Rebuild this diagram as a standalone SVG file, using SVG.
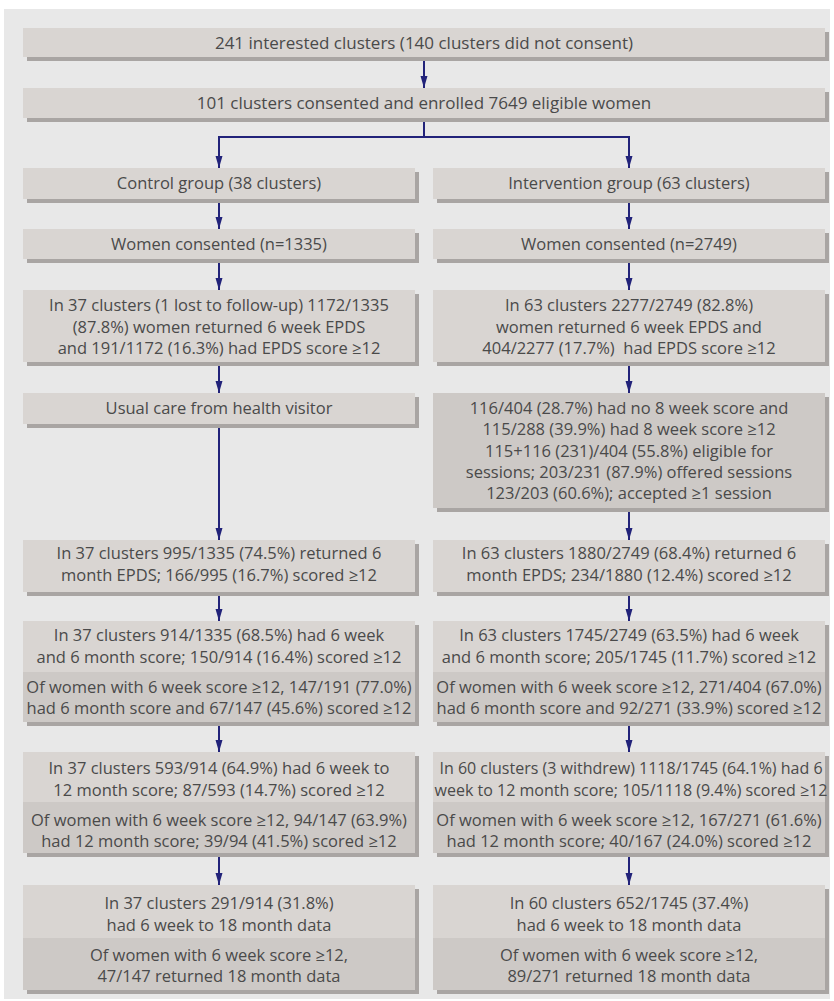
<svg xmlns="http://www.w3.org/2000/svg" width="834" height="1001" viewBox="0 0 834 1001">
<style>
.bg{fill:#e8e8e8}
.sh{fill:#a9a5a3}
.b1{fill:#d9d5d2}
.b2{fill:#cdc9c6}
text{font-family:"Open Sans","Noto Sans","Liberation Sans",sans-serif;font-size:16.5px;fill:#4a4a4a;text-anchor:middle}
text.w{font-size:17px}
text.n{font-size:16px}
.c{fill:none;stroke:#22237a;stroke-width:2}
</style>
<defs>
<marker id="ah" markerUnits="userSpaceOnUse" markerWidth="12" markerHeight="8" refX="12" refY="4" orient="auto">
<path d="M0,0.5 L12,4 L0,7.5 z" fill="#22237a"/>
</marker>
</defs>
<rect width="834" height="1001" fill="#ffffff"/>
<rect class="bg" x="4" y="9" width="826" height="990"/>

<g id="n1"><rect class="sh" x="27" y="32" width="802" height="29"/><rect class="b1" x="23" y="28" width="802" height="29"/><text class="w" x="424" y="48.5">241 interested clusters (140 clusters did not consent)</text></g>
<g id="n2"><rect class="sh" x="27" y="92" width="802" height="30"/><rect class="b1" x="23" y="88" width="802" height="30"/><text class="w" x="424" y="108.5">101 clusters consented and enrolled 7649 eligible women</text></g>

<g id="c3"><rect class="sh" x="27" y="172" width="392" height="31"/><rect class="b1" x="23" y="168" width="392" height="31"/><text x="219" y="189">Control group (38 clusters)</text></g>
<g id="i3"><rect class="sh" x="437" y="172" width="392" height="31"/><rect class="b1" x="433" y="168" width="392" height="31"/><text x="629" y="189">Intervention group (63 clusters)</text></g>

<g id="c4"><rect class="sh" x="27" y="233" width="392" height="30"/><rect class="b1" x="23" y="229" width="392" height="30"/><text x="219" y="249.5">Women consented (n=1335)</text></g>
<g id="i4"><rect class="sh" x="437" y="233" width="392" height="30"/><rect class="b1" x="433" y="229" width="392" height="30"/><text x="629" y="249.5">Women consented (n=2749)</text></g>

<g id="c5"><rect class="sh" x="27" y="294" width="392" height="72"/><rect class="b1" x="23" y="290" width="392" height="72"/>
<text x="219" y="311">In 37 clusters (1 lost to follow-up) 1172/1335</text>
<text x="219" y="332.5">(87.8%) women returned 6 week EPDS</text>
<text x="219" y="354">and 191/1172 (16.3%) had EPDS score ≥12</text></g>
<g id="i5"><rect class="sh" x="437" y="294" width="392" height="72"/><rect class="b1" x="433" y="290" width="392" height="72"/>
<text x="629" y="311">In 63 clusters 2277/2749 (82.8%)</text>
<text x="629" y="332.5">women returned 6 week EPDS and</text>
<text x="629" y="354" xml:space="preserve">404/2277 (17.7%)  had EPDS score ≥12</text></g>

<g id="c6"><rect class="sh" x="27" y="397" width="392" height="31"/><rect class="b1" x="23" y="393" width="392" height="31"/><text x="219" y="414">Usual care from health visitor</text></g>
<g id="i6"><rect class="sh" x="437" y="397" width="392" height="115"/><rect class="b2" x="433" y="393" width="392" height="115"/>
<text x="629" y="414">116/404 (28.7%) had no 8 week score and</text>
<text x="629" y="435">115/288 (39.9%) had 8 week score ≥12</text>
<text x="629" y="456.5">115+116 (231)/404 (55.8%) eligible for</text>
<text x="629" y="478">sessions; 203/231 (87.9%) offered sessions</text>
<text x="629" y="499">123/203 (60.6%); accepted ≥1 session</text></g>

<g id="c7"><rect class="sh" x="27" y="544" width="392" height="52"/><rect class="b1" x="23" y="540" width="392" height="52"/>
<text x="219" y="559">In 37 clusters 995/1335 (74.5%) returned 6</text>
<text x="219" y="580.5">month EPDS; 166/995 (16.7%) scored ≥12</text></g>
<g id="i7"><rect class="sh" x="437" y="544" width="392" height="52"/><rect class="b1" x="433" y="540" width="392" height="52"/>
<text x="629" y="559">In 63 clusters 1880/2749 (68.4%) returned 6</text>
<text x="629" y="580.5">month EPDS; 234/1880 (12.4%) scored ≥12</text></g>

<g id="c8"><rect class="sh" x="27" y="625" width="392" height="101"/><rect class="b1" x="23" y="621" width="392" height="51"/><rect class="b2" x="23" y="672" width="392" height="50"/>
<text x="219" y="641">In 37 clusters 914/1335 (68.5%) had 6 week</text>
<text x="219" y="662.5">and 6 month score; 150/914 (16.4%) scored ≥12</text>
<text x="219" y="692.5">Of women with 6 week score ≥12, 147/191 (77.0%)</text>
<text x="219" y="714">had 6 month score and 67/147 (45.6%) scored ≥12</text></g>
<g id="i8"><rect class="sh" x="437" y="625" width="392" height="101"/><rect class="b1" x="433" y="621" width="392" height="51"/><rect class="b2" x="433" y="672" width="392" height="50"/>
<text x="629" y="641">In 63 clusters 1745/2749 (63.5%) had 6 week</text>
<text x="629" y="662.5">and 6 month score; 205/1745 (11.7%) scored ≥12</text>
<text x="629" y="692.5">Of women with 6 week score ≥12, 271/404 (67.0%)</text>
<text x="629" y="714">had 6 month score and 92/271 (33.9%) scored ≥12</text></g>

<g id="c9"><rect class="sh" x="27" y="756" width="392" height="101"/><rect class="b1" x="23" y="752" width="392" height="50"/><rect class="b2" x="23" y="802" width="392" height="51"/>
<text x="219" y="774">In 37 clusters 593/914 (64.9%) had 6 week to</text>
<text x="219" y="795.5">12 month score; 87/593 (14.7%) scored ≥12</text>
<text x="219" y="825.5">Of women with 6 week score ≥12, 94/147 (63.9%)</text>
<text x="219" y="847">had 12 month score; 39/94 (41.5%) scored ≥12</text></g>
<g id="i9"><rect class="sh" x="437" y="756" width="392" height="101"/><rect class="b1" x="433" y="752" width="392" height="50"/><rect class="b2" x="433" y="802" width="392" height="51"/>
<text class="n" x="631" y="774">In 60 clusters (3 withdrew) 1118/1745 (64.1%) had 6</text>
<text class="n" x="631" y="795.5">week to 12 month score; 105/1118 (9.4%) scored ≥12</text>
<text x="629" y="825.5">Of women with 6 week score ≥12, 167/271 (61.6%)</text>
<text x="629" y="847">had 12 month score; 40/167 (24.0%) scored ≥12</text></g>

<g id="c10"><rect class="sh" x="27" y="889" width="392" height="105"/><rect class="b1" x="23" y="885" width="392" height="53"/><rect class="b2" x="23" y="938" width="392" height="52"/>
<text x="219" y="909">In 37 clusters 291/914 (31.8%)</text>
<text x="219" y="930.5">had 6 week to 18 month data</text>
<text x="219" y="961">Of women with 6 week score ≥12,</text>
<text x="219" y="982">47/147 returned 18 month data</text></g>
<g id="i10"><rect class="sh" x="437" y="889" width="392" height="105"/><rect class="b1" x="433" y="885" width="392" height="53"/><rect class="b2" x="433" y="938" width="392" height="52"/>
<text x="629" y="909">In 60 clusters 652/1745 (37.4%)</text>
<text x="629" y="930.5">had 6 week to 18 month data</text>
<text x="629" y="961">Of women with 6 week score ≥12,</text>
<text x="629" y="982">89/271 returned 18 month data</text></g>

<g id="connectors">
<path class="c" d="M424,61 V88" marker-end="url(#ah)"/>
<path class="c" d="M424,122 V137 H219 V168" marker-end="url(#ah)"/>
<path class="c" d="M424,137 H629 V168" marker-end="url(#ah)"/>
<path class="c" d="M219,203 V229" marker-end="url(#ah)"/>
<path class="c" d="M629,203 V229" marker-end="url(#ah)"/>
<path class="c" d="M219,263 V290" marker-end="url(#ah)"/>
<path class="c" d="M629,263 V290" marker-end="url(#ah)"/>
<path class="c" d="M219,366 V393" marker-end="url(#ah)"/>
<path class="c" d="M629,366 V393" marker-end="url(#ah)"/>
<path class="c" d="M219,428 V540" marker-end="url(#ah)"/>
<path class="c" d="M629,512 V540" marker-end="url(#ah)"/>
<path class="c" d="M219,596 V621" marker-end="url(#ah)"/>
<path class="c" d="M629,596 V621" marker-end="url(#ah)"/>
<path class="c" d="M219,726 V752" marker-end="url(#ah)"/>
<path class="c" d="M629,726 V752" marker-end="url(#ah)"/>
<path class="c" d="M219,857 V885" marker-end="url(#ah)"/>
<path class="c" d="M629,857 V885" marker-end="url(#ah)"/>
</g>
</svg>
